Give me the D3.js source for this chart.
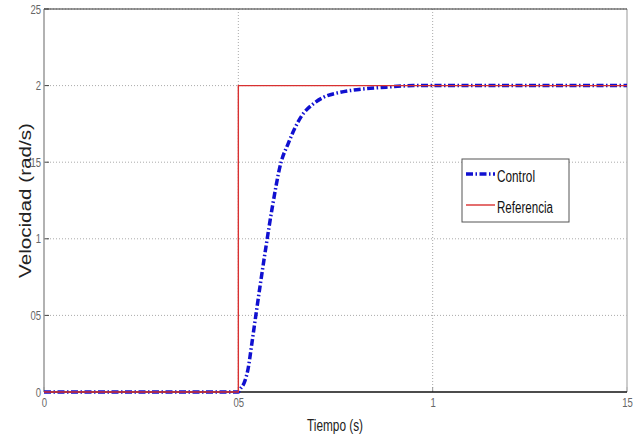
<!DOCTYPE html>
<html>
<head>
<meta charset="utf-8">
<title>Velocidad</title>
<script src="https://cdnjs.cloudflare.com/ajax/libs/d3/7.8.5/d3.min.js"></script>
<style>
  body { margin: 0; background: #fff; }
  .tick-label { font-family: "Liberation Sans", Arial, sans-serif; font-size: 13px; fill: #666; }
</style>
</head>
<body>
<div id="chart"></div>
<script>
// control response
var tiempo  = [0, 0.5, 0.505, 0.515, 0.525, 0.535, 0.545, 0.557, 0.57, 0.587, 0.61, 0.628, 0.645, 0.665, 0.69, 0.72, 0.76, 0.81, 0.88, 0.95, 1.5];
var control = [0, 0,   0.02,  0.06,  0.15,  0.32,  0.5,   0.71,  0.93, 1.2,   1.5,  1.62,  1.72,  1.81,  1.875, 1.925, 1.955, 1.975, 1.99, 2.0, 2.0];
// step reference
var refTiempo = [0, 0.5, 0.5, 1.5];
var referencia = [0, 0, 2, 2];
// ticks as printed in the figure (decimal points are lost in the original)
var xTicks = [0, 0.5, 1, 1.5];
var xTickLabels = ["0", "05", "1", "15"];
var yTicks = [0, 0.5, 1, 1.5, 2, 2.5];
var yTickLabels = ["0", "05", "1", "15", "2", "25"];

var width = 639, height = 439;
var margin = {top: 9, right: 12, bottom: 47, left: 44};
var w = width - margin.left - margin.right;
var h = height - margin.top - margin.bottom;
var narrow = 'spacingAndGlyphs';

var svg = d3.select('#chart').append('svg')
    .attr('width', width)
    .attr('height', height);
var g = svg.append('g').attr('transform', 'translate(' + margin.left + ',' + margin.top + ')');

var x = d3.scaleLinear().domain([0, 1.5]).range([0, w]);
var y = d3.scaleLinear().domain([0, 2.5]).range([h, 0]);

// grid
g.selectAll('.vgrid').data(xTicks.slice(1, -1)).enter().append('line')
    .attr('x1', function(d){ return x(d); }).attr('x2', function(d){ return x(d); })
    .attr('y1', 0).attr('y2', h)
    .style('stroke', '#aaa').style('stroke-width', 1).style('stroke-dasharray', '1,2');
g.selectAll('.hgrid').data(yTicks.slice(1)).enter().append('line')
    .attr('x1', 0).attr('x2', w)
    .attr('y1', function(d){ return y(d); }).attr('y2', function(d){ return y(d); })
    .style('stroke', '#aaa').style('stroke-width', 1).style('stroke-dasharray', '1,2');

// axes
var xAxis = d3.axisBottom(x).tickValues(xTicks).tickSize(0).tickPadding(6)
    .tickFormat(function(d, i){ return xTickLabels[i]; });
var yAxis = d3.axisLeft(y).tickValues(yTicks).tickSize(0).tickPadding(3)
    .tickFormat(function(d, i){ return yTickLabels[i]; });

var gx = g.append('g').attr('transform', 'translate(0,' + h + ')').call(xAxis);
var gy = g.append('g').call(yAxis);
[gx, gy].forEach(function(a){
    a.select('.domain').remove();
    a.selectAll('text').attr('class', 'tick-label')
        .attr('textLength', function(){ return this.textContent.length * 5.3; })
        .attr('lengthAdjust', narrow);
});

// inner tick marks
g.selectAll('.ytk').data(yTicks).enter().append('line')
    .attr('x1', 0).attr('x2', 5)
    .attr('y1', function(d){ return y(d); }).attr('y2', function(d){ return y(d); })
    .style('stroke', '#444').style('stroke-width', 1);
g.selectAll('.xtk').data(xTicks).enter().append('line')
    .attr('x1', function(d){ return x(d); }).attr('x2', function(d){ return x(d); })
    .attr('y1', h).attr('y2', h - 5)
    .style('stroke', '#999').style('stroke-width', 1);

// box
g.append('line').attr('x1', 0).attr('x2', 0).attr('y1', 0).attr('y2', h).style('stroke', '#999').style('stroke-width', 1.5);
g.append('line').attr('x1', w).attr('x2', w).attr('y1', 0).attr('y2', h).style('stroke', '#bbb').style('stroke-width', 1.5);
g.append('line').attr('x1', 0).attr('x2', w).attr('y1', 0).attr('y2', 0).style('stroke', '#333').style('stroke-width', 1);
g.append('line').attr('x1', 0).attr('x2', w).attr('y1', h).attr('y2', h).style('stroke', '#111').style('stroke-width', 1.3);

// lines
var ctrlLine = d3.line()
    .x(function(d, i){ return x(tiempo[i]); })
    .y(function(d){ return y(d); })
    .curve(d3.curveMonotoneX);
g.append('path').datum(control)
    .attr('d', ctrlLine)
    .style('fill', 'none').style('stroke', '#1010d0').style('stroke-width', 3.5)
    .style('stroke-dasharray', '7,2.5,1.5,2.5');

var refLine = d3.line()
    .x(function(d, i){ return x(refTiempo[i]); })
    .y(function(d){ return y(d); });
g.append('path').datum(referencia)
    .attr('d', refLine)
    .style('fill', 'none').style('stroke', '#d83030').style('stroke-width', 1.4);

// legend
var legendNames = ['Control', 'Referencia'];
var legendWidths = [38, 56];
var lg = svg.append('g').attr('transform', 'translate(462,159)');
lg.append('rect').attr('width', 107).attr('height', 63)
    .style('fill', '#fff').style('stroke', '#555').style('stroke-width', 1);
lg.append('line').attr('x1', 4).attr('x2', 33).attr('y1', 15).attr('y2', 15)
    .style('stroke', '#1010d0').style('stroke-width', 3.5).style('stroke-dasharray', '7,2.5,1.5,2.5');
lg.append('line').attr('x1', 4).attr('x2', 33).attr('y1', 46).attr('y2', 46)
    .style('stroke', '#d83030').style('stroke-width', 1.4);
lg.selectAll('text').data(legendNames).enter().append('text')
    .attr('x', 35).attr('y', function(d, i){ return 23 + i * 31; })
    .text(function(d){ return d; })
    .attr('textLength', function(d, i){ return legendWidths[i]; })
    .attr('lengthAdjust', narrow)
    .style('font-family', '"Liberation Sans", Arial, sans-serif')
    .style('font-size', '16px').style('fill', '#111');

// axis titles
svg.append('text')
    .attr('x', 307).attr('y', 431)
    .text('Tiempo (s)')
    .attr('textLength', 56).attr('lengthAdjust', narrow)
    .style('font-family', '"Liberation Sans", Arial, sans-serif')
    .style('font-size', '16px').style('fill', '#222');
svg.append('text')
    .attr('transform', 'translate(31,278) rotate(-90)')
    .text('Velocidad (rad/s)')
    .attr('textLength', 155).attr('lengthAdjust', narrow)
    .style('font-family', '"Liberation Sans", Arial, sans-serif')
    .style('font-size', '16px').style('fill', '#222');
</script>
</body>
</html>
